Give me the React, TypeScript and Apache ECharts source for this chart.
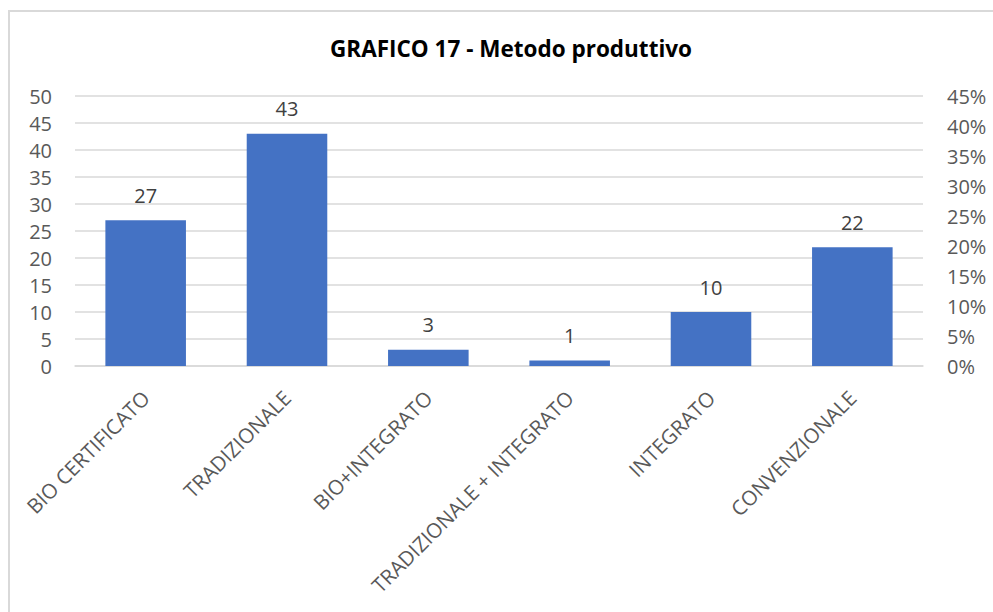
import React, { useEffect, useRef } from "react";
import * as echarts from "echarts";

const categories = [
  "BIO CERTIFICATO",
  "TRADIZIONALE",
  "BIO+INTEGRATO",
  "TRADIZIONALE + INTEGRATO",
  "INTEGRATO",
  "CONVENZIONALE",
];
const counts = [27, 43, 3, 1, 10, 22];
const titleText = "GRAFICO 17 - Metodo produttivo";

const FONT = "'Open Sans', 'Noto Sans', sans-serif";

export default function App() {
  const ref = useRef<HTMLDivElement>(null);
  useEffect(() => {
    if (!ref.current) return;
    const chart = echarts.init(ref.current, undefined, { renderer: "svg" });
    chart.setOption({
      animation: false,
      backgroundColor: "#ffffff",
      textStyle: { fontFamily: FONT },
      title: {
        text: titleText,
        left: 506,
        textAlign: "center",
        top: 32,
        textStyle: { fontFamily: FONT, fontWeight: "bold", fontSize: 22.5, color: "#000000" },
      },
      graphic: [
        {
          type: "rect",
          shape: { x: 9, y: 11, width: 1000, height: 700 },
          style: { fill: "none", stroke: "#d9d9d9", lineWidth: 2 },
          silent: true,
        },
      ],
      grid: { left: 75, right: 70, top: 96, bottom: 246, containLabel: false },
      xAxis: {
        type: "category",
        data: categories,
        axisLine: { show: true, lineStyle: { color: "#d9d9d9", width: 1.5 } },
        axisTick: { show: false },
        axisLabel: {
          interval: 0,
          rotate: 45,
          margin: 28,
          fontFamily: FONT,
          fontSize: 20.5,
          color: "#595959",
        },
      },
      yAxis: [
        {
          type: "value",
          min: 0,
          max: 50,
          interval: 5,
          axisLine: { show: false },
          axisTick: { show: false },
          splitLine: { lineStyle: { color: "#d9d9d9", width: 1.5 } },
          axisLabel: { margin: 23, fontFamily: FONT, fontSize: 20, color: "#595959" },
        },
        {
          type: "value",
          min: 0,
          max: 0.45,
          interval: 0.05,
          position: "right",
          axisLine: { show: false },
          axisTick: { show: false },
          splitLine: { show: false },
          axisLabel: {
            margin: 24,
            fontFamily: FONT,
            fontSize: 20,
            color: "#595959",
            formatter: (v: number) => Math.round(v * 100) + "%",
          },
        },
      ],
      series: [
        {
          type: "bar",
          data: counts,
          yAxisIndex: 0,
          barWidth: "57%",
          itemStyle: { color: "#4472C4" },
          label: {
            show: true,
            position: "top",
            distance: 15,
            fontFamily: FONT,
            fontSize: 20,
            color: "#404040",
          },
        },
      ],
    });
    return () => chart.dispose();
  }, []);
  return (
    <div
      ref={ref}
      style={{ position: "absolute", left: 0, top: 0, width: 993, height: 612 }}
    />
  );
}
